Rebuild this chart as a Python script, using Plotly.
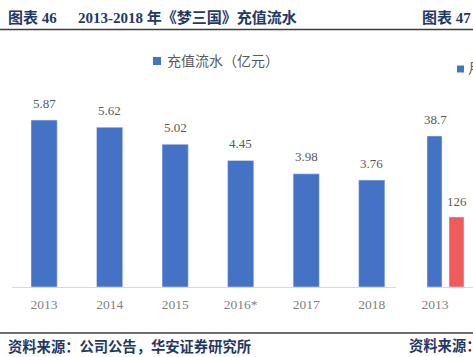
import plotly.graph_objects as go

W, H = 473, 357

# ---- data ----
years = ["2013", "2014", "2015", "2016*", "2017", "2018"]
recharge = [5.87, 5.62, 5.02, 4.45, 3.98, 3.76]
series_name = "充值流水（亿元）"

years2 = ["2013"]
blue2 = [38.7]
red2 = [126]
series2_name = "月流水（百万元）"

title_left = "图表 46"
title_main = "2013-2018 年《梦三国》充值流水"
title_right = "图表 47"
source_left = "资料来源：公司公告，华安证券研究所"
source_right = "资料来源："

BLUE = "#4472C4"
RED = "#EF5B5B"
NAVY = "#1F3864"
GRAY = "#7F7F7F"
LBL = "#595959"
SERIF = "Liberation Serif, Times New Roman, Noto Sans CJK SC, serif"
CJK = "Liberation Serif, Noto Sans CJK SC, sans-serif"


def px(x):
    return x / W


def py(y):
    return 1 - y / H


y_dom = [py(287), py(88)]

fig = go.Figure()
fig.add_trace(go.Bar(x=years, y=recharge, name=series_name, marker_color=BLUE,
                     width=0.4, xaxis="x", yaxis="y", showlegend=False))
fig.add_trace(go.Bar(x=years2, y=blue2, marker_color=BLUE, width=0.15, offset=-0.08,
                     xaxis="x2", yaxis="y2", showlegend=False))
fig.add_trace(go.Bar(x=years2, y=red2, marker_color=RED, width=0.15, offset=0.14,
                     xaxis="x2", yaxis="y3", showlegend=False))

ann = []
for i, v in enumerate(recharge):
    ann.append(dict(x=i, y=v, xref="x", yref="y", text=f"{v:.2f}", showarrow=False,
                    yanchor="middle", yshift=17, font=dict(family=SERIF, size=13, color=LBL)))
for i, v in enumerate(blue2):
    ann.append(dict(x=i, y=v, xref="x2", yref="y2", text=f"{v}", showarrow=False,
                    yanchor="middle", yshift=16, font=dict(family=SERIF, size=13, color=LBL)))
for i, v in enumerate(red2):
    ann.append(dict(x=i, y=v, xref="x2", yref="y3", text=f"{v}", showarrow=False,
                    yanchor="middle", yshift=15, xshift=22, font=dict(family=SERIF, size=13, color=LBL)))

# legends (drawn as marker squares + text)
ann += [
    dict(x=px(165), y=py(61), xref="paper", yref="paper", xanchor="left", yanchor="middle",
         text=series_name, showarrow=False, font=dict(family=CJK, size=14, color=LBL)),
    dict(x=px(466), y=py(69), xref="paper", yref="paper", xanchor="left", yanchor="middle",
         text=series2_name, showarrow=False, font=dict(family=CJK, size=14, color=LBL)),
]

# titles / sources
ann += [
    dict(x=px(6), y=py(17), xref="paper", yref="paper", xanchor="left", yanchor="middle",
         text=f"<b>{title_left}</b>", showarrow=False, font=dict(family=CJK, size=15, color=NAVY)),
    dict(x=px(76), y=py(17), xref="paper", yref="paper", xanchor="left", yanchor="middle",
         text=f"<b>{title_main}</b>", showarrow=False, font=dict(family=CJK, size=15, color=NAVY)),
    dict(x=px(420), y=py(17), xref="paper", yref="paper", xanchor="left", yanchor="middle",
         text=f"<b>{title_right}</b>", showarrow=False, font=dict(family=CJK, size=15, color=NAVY)),
    dict(x=px(6), y=py(346), xref="paper", yref="paper", xanchor="left", yanchor="middle",
         text=f"<b>{source_left}</b>", showarrow=False, font=dict(family=CJK, size=14.3, color=NAVY)),
    dict(x=px(407), y=py(346), xref="paper", yref="paper", xanchor="left", yanchor="middle",
         text=f"<b>{source_right}</b>", showarrow=False, font=dict(family=CJK, size=14.3, color=NAVY)),
    dict(x=px(40), y=py(-4), xref="paper", yref="paper", xanchor="left", yanchor="middle",
         text="HUAAN RESEARCH", showarrow=False, font=dict(family=SERIF, size=9, color="#666")),
]

shapes = [
    dict(type="line", xref="paper", yref="paper", x0=0, x1=1, y0=py(29.5), y1=py(29.5),
         line=dict(color="#3C3C3C", width=1.5)),
    dict(type="line", xref="paper", yref="paper", x0=0, x1=1, y0=py(333), y1=py(333),
         line=dict(color="#3C3C3C", width=1.5)),
    dict(type="rect", xref="paper", yref="paper", x0=px(153), x1=px(161), y0=py(65), y1=py(57),
         fillcolor=BLUE, line=dict(width=0)),
    dict(type="rect", xref="paper", yref="paper", x0=px(457), x1=px(464), y0=py(72.5), y1=py(65.5),
         fillcolor=BLUE, line=dict(width=0)),
]

fig.update_layout(
    width=W, height=H,
    margin=dict(l=0, r=0, t=0, b=0, autoexpand=False),
    paper_bgcolor="white", plot_bgcolor="white",
    barmode="overlay", hovermode=False,
    xaxis=dict(domain=[px(12), px(396)], range=[-0.49, 5.37], type="category",
               showline=True, linecolor="#D9D9D9", linewidth=1, ticks="", ticklabelstandoff=5,
               tickfont=dict(family=SERIF, size=13.5, color=GRAY), showgrid=False),
    yaxis=dict(domain=y_dom, range=[0, 7], visible=False, showgrid=False),
    xaxis2=dict(domain=[px(427), 1], range=[-0.08, 0.38], type="category",
                showline=True, linecolor="#D9D9D9", linewidth=1, ticks="", ticklabelstandoff=5,
                tickfont=dict(family=SERIF, size=13.5, color=GRAY), showgrid=False),
    yaxis2=dict(domain=y_dom, range=[0, 51], visible=False, showgrid=False, anchor="x2"),
    yaxis3=dict(domain=y_dom, range=[0, 358], visible=False, showgrid=False,
                overlaying="y2", anchor="x2"),
    annotations=ann, shapes=shapes, showlegend=False,
)

fig.write_html("out.html", config={"displayModeBar": False, "staticPlot": True},
               post_script="document.body.style.margin='0';document.body.style.overflow='hidden';")
